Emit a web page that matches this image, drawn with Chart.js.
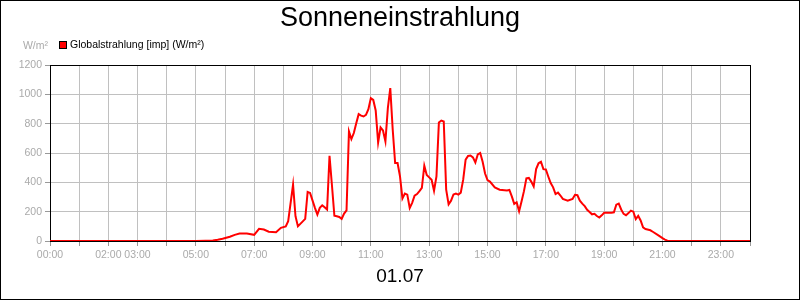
<!DOCTYPE html>
<html>
<head>
<meta charset="utf-8">
<script src="https://cdn.jsdelivr.net/npm/chart.js@4/dist/chart.umd.min.js"></script>
<style>
  html, body { margin: 0; padding: 0; background: #fff; }
  canvas { display: block; }
</style>
</head>
<body>
<canvas id="c" width="800" height="300"></canvas>
<script>
const chartTitle = 'Sonneneinstrahlung';
const dateLabel = '01.07';
const seriesLabel = 'Globalstrahlung [imp] (W/m²)';
const unitLabel = 'W/m²';
const xTickLabels = ['00:00','02:00','03:00','05:00','07:00','09:00','11:00','13:00','15:00','17:00','19:00','21:00','23:00'];
const yTicks = [0, 200, 400, 600, 800, 1000, 1200];

const times = ['00:00','05:00','05:20','05:35','05:45','05:55','06:10','06:20','06:30','06:45',
  '07:00','07:10','07:20','07:30','07:45','07:55','08:05','08:10','08:20','08:25',
  '08:30','08:45','08:50','08:55','09:05','09:10','09:15','09:20','09:25','09:30',
  '09:35','09:40','09:45','09:50','09:55','10:00','10:05','10:10','10:15','10:20',
  '10:25','10:30','10:35','10:40','10:45','10:50','10:55','11:00','11:05','11:10',
  '11:15','11:20','11:25','11:30','11:35','11:40','11:45','11:50','11:55','12:00',
  '12:05','12:10','12:15','12:20','12:25','12:30','12:35','12:40','12:45','12:50',
  '12:55','13:00','13:05','13:10','13:15','13:20','13:25','13:30','13:35','13:40',
  '13:45','13:50','13:55','14:00','14:05','14:10','14:15','14:20','14:25','14:30',
  '14:35','14:40','14:45','14:50','14:55','15:00','15:05','15:15','15:25','15:40',
  '15:45','15:50','15:55','16:00','16:05','16:10','16:15','16:20','16:25','16:30',
  '16:35','16:40','16:45','16:50','16:55','17:00','17:05','17:10','17:15','17:20',
  '17:25','17:30','17:35','17:45','17:55','18:00','18:05','18:10','18:15','18:20',
  '18:25','18:30','18:35','18:40','18:45','18:50','18:55','19:00','19:15','19:20',
  '19:25','19:30','19:35','19:40','19:45','19:50','19:55','20:00','20:05','20:10',
  '20:15','20:20','20:25','20:35','20:40','20:50','21:00','21:05','21:10','21:15',
  '24:00'];
const radiation = [0,0,2,3,8,15,29,42,51,51,
  42,83,78,63,60,90,100,135,384,169,
  100,151,335,328,226,180,226,243,230,214,
  581,380,173,169,164,151,187,209,747,695,
  736,803,865,855,849,860,899,974,962,890,
  672,774,753,679,906,1042,760,532,532,441,
  290,323,316,225,260,309,320,340,362,513,
  450,434,418,343,441,808,821,815,350,250,
  275,317,323,316,330,418,555,580,583,570,
  535,590,600,540,460,415,405,365,350,345,
  348,304,253,264,203,270,340,427,430,405,
  372,490,530,540,490,488,440,395,366,320,
  330,310,287,275,287,315,312,275,255,238,
  213,198,182,185,170,160,175,192,193,196,
  248,255,215,185,176,190,207,200,150,172,
  140,93,82,73,63,42,20,10,2,0,
  0];

const toMin = s => { const [h, m] = s.split(':').map(Number); return h * 60 + m; };
const fmt = v => String(Math.floor(v / 60)).padStart(2, '0') + ':' + String(v % 60).padStart(2, '0');
const points = times.map((t, i) => ({ x: toMin(t), y: radiation[i] }));

const FONT = '"Liberation Sans", Arial, sans-serif';

const decor = {
  id: 'decor',
  beforeDatasetsDraw(chart) {
    const { ctx, chartArea: a } = chart;
    ctx.save();
    ctx.strokeStyle = '#000';
    ctx.lineWidth = 1;
    ctx.strokeRect(Math.round(a.left) + 0.5, Math.round(a.top) + 0.5,
      Math.round(a.right - a.left), Math.round(a.bottom - a.top));
    ctx.restore();
  },
  afterDraw(chart) {
    const { ctx } = chart;
    ctx.save();
    // legend
    ctx.fillStyle = '#ff0000';
    ctx.fillRect(59, 41, 8, 8);
    ctx.strokeStyle = '#000';
    ctx.lineWidth = 1;
    ctx.strokeRect(59.5, 41.5, 7, 7);
    ctx.font = '10.5px ' + FONT;
    ctx.fillStyle = '#000';
    ctx.textBaseline = 'middle';
    ctx.textAlign = 'left';
    ctx.fillText(seriesLabel, 70, 45);
    // unit
    ctx.font = '10.5px ' + FONT;
    ctx.fillStyle = '#aaaaaa';
    ctx.textAlign = 'right';
    ctx.fillText(unitLabel, 48, 46);
    // outer frame
    ctx.strokeStyle = '#000';
    ctx.strokeRect(0.5, 0.5, 799, 299);
    ctx.restore();
  }
};

new Chart(document.getElementById('c'), {
  type: 'line',
  data: {
    datasets: [{
      label: seriesLabel,
      data: points,
      borderColor: '#ff0000',
      backgroundColor: '#ff0000',
      borderWidth: 2,
      pointRadius: 0,
      tension: 0,
      fill: false
    }]
  },
  options: {
    responsive: false,
    animation: false,
    events: [],
    layout: { padding: { top: 0, left: 0, right: 0, bottom: 5 } },
    plugins: {
      legend: { display: false },
      tooltip: { enabled: false },
      title: {
        display: true,
        text: chartTitle,
        color: '#000',
        font: { family: FONT, size: 27, weight: 'normal' },
        padding: { top: 2, bottom: 30.6 }
      },
      subtitle: {
        display: true,
        position: 'bottom',
        text: dateLabel,
        color: '#000',
        font: { family: FONT, size: 19, weight: 'normal' },
        padding: { top: 0, bottom: 6.9 }
      }
    },
    scales: {
      x: {
        type: 'linear',
        min: 0,
        max: 1440,
        afterFit: s => { s.height = 24.3; s.paddingRight = 50; },
        border: { color: '#000', width: 1 },
        grid: { color: '#c0c0c0', lineWidth: 1, tickLength: 5, tickColor: '#999' },
        ticks: {
          stepSize: 60,
          autoSkip: false,
          maxRotation: 0,
          padding: 3,
          color: '#aaaaaa',
          font: { family: FONT, size: 10.5 },
          callback: v => { const s = fmt(v); return xTickLabels.includes(s) ? s : ''; }
        }
      },
      y: {
        min: yTicks[0],
        max: yTicks[yTicks.length - 1],
        afterFit: s => { s.width = 50; },
        afterBuildTicks: s => { s.ticks = yTicks.map(v => ({ value: v })); },
        border: { color: '#000', width: 1 },
        grid: { color: '#c0c0c0', lineWidth: 1, tickLength: 5, tickColor: '#999' },
        ticks: {
          padding: 3,
          color: '#aaaaaa',
          font: { family: FONT, size: 10.5 },
          callback: v => String(v)
        }
      }
    }
  },
  plugins: [decor]
});
</script>
</body>
</html>
